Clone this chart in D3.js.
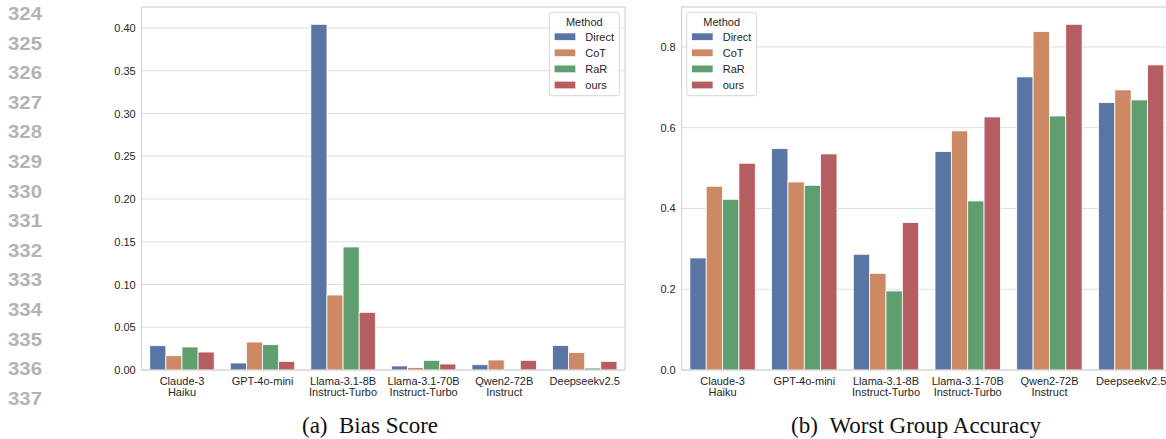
<!DOCTYPE html>
<html>
<head>
<meta charset="utf-8">
<script src="https://cdn.jsdelivr.net/npm/d3@7"></script>
<style>
  body { margin: 0; background: #fff; }
  svg { display: block; }
</style>
</head>
<body>
<div id="chart"></div>
<script>
// data
const models = [
  'Claude-3\nHaiku',
  'GPT-4o-mini',
  'Llama-3.1-8B\nInstruct-Turbo',
  'Llama-3.1-70B\nInstruct-Turbo',
  'Qwen2-72B\nInstruct',
  'Deepseekv2.5',
];
const methods = ['Direct', 'CoT', 'RaR', 'ours'];

// (a) bias score
const biasDirect = [0.0284, 0.0082, 0.4043, 0.0047, 0.0062, 0.0285];
const biasCoT = [0.0167, 0.0327, 0.0877, 0.003, 0.0117, 0.0203];
const biasRaR = [0.0269, 0.0296, 0.1439, 0.0113, 0.0, 0.0023];
const biasOurs = [0.021, 0.0101, 0.0674, 0.007, 0.0113, 0.0101];

// (b) worst group accuracy
const accDirect = [0.2774, 0.548, 0.2865, 0.5408, 0.7257, 0.662];
const accCoT = [0.455, 0.4656, 0.2394, 0.592, 0.838, 0.6935];
const accRaR = [0.4227, 0.4574, 0.1957, 0.4186, 0.629, 0.6687];
const accOurs = [0.512, 0.535, 0.365, 0.6266, 0.856, 0.7554];

const biasTicks = [0, 0.05, 0.1, 0.15, 0.2, 0.25, 0.3, 0.35, 0.4];
const accTicks = [0, 0.2, 0.4, 0.6, 0.8];
const lineNumbers = [324, 325, 326, 327, 328, 329, 330, 331, 332, 333, 334, 335, 336, 337];

const W = 1166, H = 439;
const color = d3.scaleOrdinal().domain(methods)
  .range(['#5875a4', '#cc8963', '#5f9e6e', '#b55d60']);
const sans = '"Liberation Sans", Arial, Helvetica, sans-serif';

const svg = d3.select('#chart').append('svg')
  .attr('width', W).attr('height', H);

// line numbers of the page margin
svg.append('g').selectAll('text')
  .data(lineNumbers)
  .join('text')
  .attr('x', 42)
  .attr('y', (d, i) => 20 + i * 29.6)
  .attr('text-anchor', 'end')
  .attr('font-family', sans)
  .attr('font-weight', 'bold')
  .attr('font-size', 18)
  .attr('textLength', 34)
  .attr('lengthAdjust', 'spacingAndGlyphs')
  .attr('fill', '#b3b3b3')
  .text((d) => d);

function drawPanel(p) {
  const series = p.series;
  const g = svg.append('g');

  const x = d3.scaleBand().domain(models)
    .range([p.x0, p.x1]).paddingInner(0.2).paddingOuter(0.1);
  const xm = d3.scaleBand().domain(methods).range([0, x.bandwidth()]);
  const ymax = d3.max(series.flat()) * 1.05;
  const y = d3.scaleLinear().domain([0, ymax]).range([p.y1, p.y0]);

  // grid
  g.append('g').selectAll('line')
    .data(p.ticks)
    .join('line')
    .attr('x1', p.x0).attr('x2', p.x1)
    .attr('y1', (d) => y(d)).attr('y2', (d) => y(d))
    .attr('stroke', '#dedede').attr('stroke-width', 1);

  // bars
  methods.forEach((m, j) => {
    g.append('g').selectAll('rect')
      .data(series[j])
      .join('rect')
      .attr('x', (d, i) => x(models[i]) + xm(m))
      .attr('width', xm.bandwidth())
      .attr('y', (d) => y(d))
      .attr('height', (d) => y(0) - y(d))
      .attr('fill', color(m))
      .attr('stroke', '#fff')
      .attr('stroke-width', 0.8);
  });

  // spines
  g.append('rect')
    .attr('x', p.x0).attr('y', p.y0)
    .attr('width', p.x1 - p.x0).attr('height', p.y1 - p.y0)
    .attr('fill', 'none').attr('stroke', '#cccccc').attr('stroke-width', 1);

  // y axis
  const yAxis = g.append('g')
    .attr('transform', `translate(${p.x0},0)`)
    .call(d3.axisLeft(y).tickValues(p.ticks).tickFormat(d3.format(p.fmt)).tickSize(0).tickPadding(6));
  yAxis.select('.domain').remove();
  yAxis.selectAll('text')
    .attr('font-family', sans).attr('font-size', 11).attr('fill', '#262626');

  // x axis
  const xAxis = g.append('g')
    .attr('transform', `translate(0,${p.y1})`)
    .call(d3.axisBottom(x).tickSize(0).tickPadding(0).tickFormat(''));
  xAxis.select('.domain').remove();
  xAxis.selectAll('.tick').each(function (d) {
    const t = d3.select(this).append('text')
      .attr('text-anchor', 'middle')
      .attr('font-family', sans).attr('font-size', 11).attr('fill', '#262626');
    d.split('\n').forEach((line, k) => {
      t.append('tspan').attr('x', 0).attr('y', 14.5 + k * 11).text(line);
    });
  });

  // legend
  const lw = 70, lh = 83.4;
  const lx = p.legendLeft ? p.x0 + 5 : p.x1 - 5.7 - lw;
  const ly = p.y0 + 5.3;
  const lg = g.append('g').attr('transform', `translate(${lx},${ly})`);
  lg.append('rect')
    .attr('width', lw).attr('height', lh).attr('rx', 2.5)
    .attr('fill', '#fff').attr('fill-opacity', 0.8)
    .attr('stroke', '#d6d6d6').attr('stroke-width', 1);
  lg.append('text')
    .attr('x', lw / 2).attr('y', 13.7)
    .attr('text-anchor', 'middle')
    .attr('font-family', sans).attr('font-size', 11).attr('fill', '#262626')
    .text('Method');
  const items = lg.selectAll('g.item')
    .data(methods)
    .join('g')
    .attr('class', 'item')
    .attr('transform', (d, i) => `translate(0,${21 + i * 16.1})`);
  items.append('rect')
    .attr('x', 5.3).attr('width', 20.7).attr('height', 6.8)
    .attr('fill', (d) => color(d));
  items.append('text')
    .attr('x', 36).attr('y', 7.6)
    .attr('font-family', sans).attr('font-size', 11).attr('fill', '#262626')
    .text((d) => d);

  // caption
  svg.append('text')
    .attr('x', p.capX).attr('y', 433)
    .attr('text-anchor', 'middle')
    .attr('font-family', '"Liberation Serif", "Times New Roman", serif')
    .attr('font-size', 23)
    .attr('fill', '#111')
    .attr('xml:space', 'preserve')
    .text(p.caption);
}

drawPanel({
  x0: 141.7, x1: 625, y0: 7, y1: 370,
  series: [biasDirect, biasCoT, biasRaR, biasOurs],
  ticks: biasTicks, fmt: '.2f',
  legendLeft: false,
  caption: '(a)\u2002Bias Score', capX: 370,
});

drawPanel({
  x0: 681.7, x1: 1172, y0: 7, y1: 370,
  series: [accDirect, accCoT, accRaR, accOurs],
  ticks: accTicks, fmt: '.1f',
  legendLeft: true,
  caption: '(b)\u2002Worst Group Accuracy', capX: 916,
});
</script>
</body>
</html>
